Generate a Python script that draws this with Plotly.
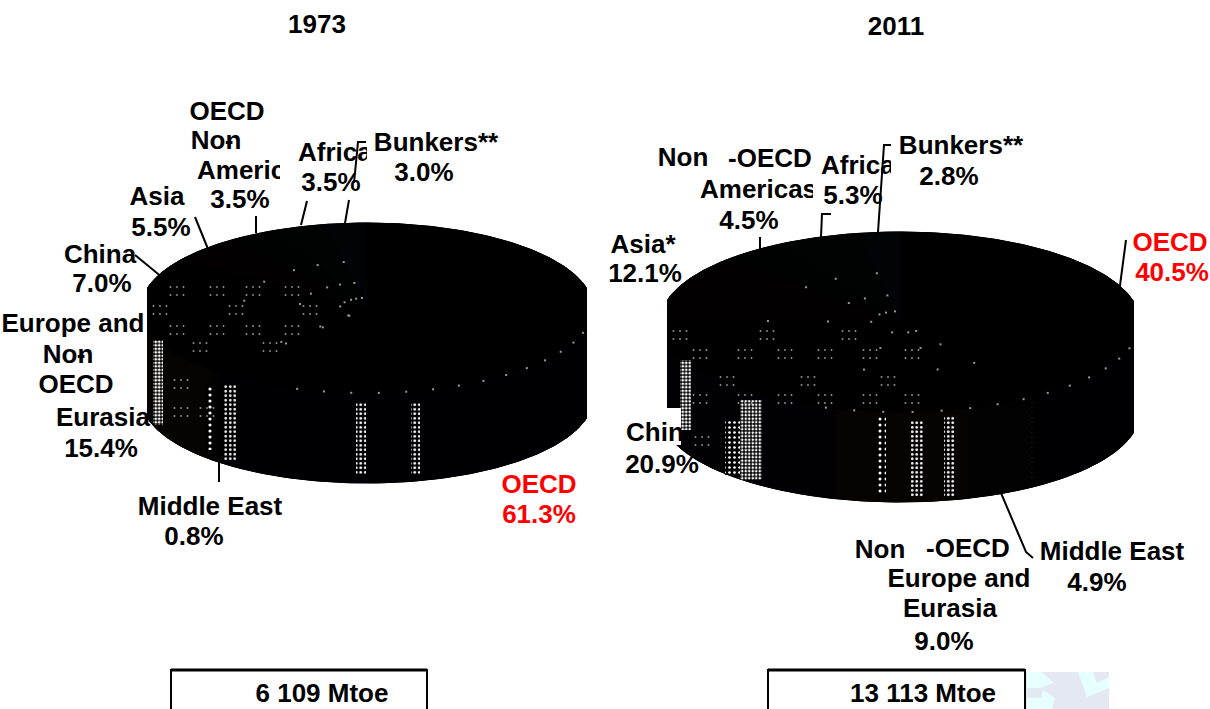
import numpy as np
import plotly.graph_objects as go

W, H = 1210, 709

# Regions, clockwise from twelve o'clock
regions = ["OECD", "Middle East", "Non-OECD Europe and Eurasia", "China", "Asia",
           "Non-OECD Americas", "Africa", "Bunkers"]
shares_1973 = [61.3, 0.8, 15.4, 7.0, 5.5, 3.5, 3.5, 3.0]
shares_2011 = [40.5, 4.9, 9.0, 20.9, 12.1, 4.5, 5.3, 2.8]
total_1973 = "6 109 Mtoe"
total_2011 = "13 113 Mtoe"
pct_1973 = dict(zip(regions, shares_1973))
pct_2011 = dict(zip(regions, shares_2011))

# Nearly black slice tints
TOP_TINTS = ["#000000", "#000000", "#000000", "#010000", "#020001", "#000101", "#010202", "#020306"]
SIDE_TINTS = ["#000002", "#020202", "#050403", "#010104", "#020202", "#020202", "#020202", "#020202"]

FONT = dict(family="Liberation Sans, Arial, sans-serif", size=26, weight="bold")


def px_axis(lo, hi, size, flip=False):
    dom = [lo / size, hi / size] if not flip else [1 - hi / size, 1 - lo / size]
    rng = [lo, hi] if not flip else [hi, lo]
    return dict(domain=dom, range=rng, visible=False, fixedrange=True)


fig = go.Figure()


def rim(geo, a0, a1, drop=0.0):
    cx, cy, rx, ry = geo
    t = np.radians(np.linspace(a0, a1, max(4, int(a1 - a0) * 2)))
    return cx + rx * np.sin(t), cy - ry * np.cos(t) + drop


def add_solid(x, y, ax, color):
    fig.add_trace(go.Scatter(x=x, y=y, xaxis=ax[0], yaxis=ax[1], mode="lines", fill="toself",
                             fillcolor=color, line=dict(color=color, width=1), hoverinfo="skip"))


def add_pie(shares, geo, depth, ax):
    # Black underlay hides antialiasing seams between the slices
    x0, y0 = rim(geo, 90, 270)
    x1, y1 = rim(geo, 90, 270, depth)
    add_solid(np.r_[x0, x1[::-1]], np.r_[y0, y1[::-1]], ax, "#000000")
    x0, y0 = rim(geo, 0, 360)
    add_solid(x0, y0, ax, "#000000")

    edges = np.concatenate([[0], np.cumsum(shares)]) * 3.6
    for i in range(len(shares)):
        # Only the front half of the wall is visible
        a0, a1 = max(edges[i], 90), min(edges[i + 1], 270)
        if a1 <= a0:
            continue
        x0, y0 = rim(geo, a0, a1)
        x1, y1 = rim(geo, a0, a1, depth)
        add_solid(np.r_[x0, x1[::-1]], np.r_[y0, y1[::-1]], ax, SIDE_TINTS[i])
    for i in range(len(shares)):
        x0, y0 = rim(geo, edges[i], edges[i + 1])
        add_solid(np.r_[geo[0], x0], np.r_[geo[1], y0], ax, TOP_TINTS[i])

    # Pale specks follow the slice boundaries and the front rim
    cx, cy, rx, ry = geo
    t = np.radians(edges[1:-1])
    fr = np.array([0.12, 0.3, 0.55])[:, None]
    sx = (cx + fr * rx * np.sin(t)).ravel()
    sy = (cy - fr * ry * np.cos(t)).ravel()
    front = np.radians(np.arange(100, 200, 7))
    sx = np.r_[sx, cx + rx * np.sin(front)]
    sy = np.r_[sy, cy - ry * np.cos(front)]
    fig.add_trace(go.Scatter(x=sx, y=sy, xaxis=ax[0], yaxis=ax[1], mode="markers", hoverinfo="skip",
                             marker=dict(symbol="square", size=2, color="#9a9a9a", line=dict(width=0))))


def add_band(x0, x1, y0, y1, ax, size=4, solidity=0.4, fg="#ffffff"):
    fig.add_trace(go.Scatter(x=[x0, x1, x1, x0, x0], y=[y0, y0, y1, y1, y0], xaxis=ax[0], yaxis=ax[1],
                             mode="lines", line=dict(width=0), fill="toself", fillcolor="rgba(0,0,0,0)",
                             fillpattern=dict(shape=".", size=size, solidity=solidity, fgcolor=fg,
                                              bgcolor="#000000", fgopacity=1),
                             hoverinfo="skip"))


def add_dots(rows, ax, step=6.5, gap=8, count=3):
    xs, ys = [], []
    for y, starts in rows:
        for x in starts:
            for r in (0, gap):
                for k in range(count):
                    xs.append(x + (k - (count - 1) / 2) * step)
                    ys.append(y + r)
    fig.add_trace(go.Scatter(x=xs, y=ys, xaxis=ax[0], yaxis=ax[1], mode="markers",
                             marker=dict(symbol="square", size=1.6, color="#a8a8a8", line=dict(width=0)),
                             hoverinfo="skip"))


AX_LEFT, AX_RIGHT, AX_TEXT, AX_CLIP = ("x", "y"), ("x2", "y2"), ("x3", "y3"), ("x4", "y4")

# 1973 pie
add_pie(shares_1973, (367, 308, 226, 85), 90, AX_LEFT)
for band in [(153, 163, 340, 425, 3.5, 0.5), (206, 212, 385, 450, 6, 0.22), (224, 236, 385, 460, 4.5, 0.28),
             (356, 366, 402, 475, 4.5, 0.3), (411, 420, 402, 475, 4.5, 0.3)]:
    add_band(band[0], band[1], band[2], band[3], AX_LEFT, size=band[4], solidity=band[5])
add_dots([(287, [177, 217, 253, 292]), (306, [160, 236, 310]), (326, [177, 217, 253, 292]),
          (343, [200, 270]), (380, [181]), (408, [181, 207])], AX_LEFT)

# 2011 pie
add_pie(shares_2011, (900, 322, 240, 90), 90, AX_RIGHT)
for band in [(680, 691, 360, 430, 3.5, 0.5), (740, 762, 400, 480, 3.5, 0.42), (725, 740, 420, 475, 5, 0.22),
             (878, 886, 415, 495, 6, 0.2), (911, 923, 420, 497, 4.5, 0.3), (944, 955, 415, 497, 4.5, 0.3),
             (1031, 1033, 400, 480, 5, 0.3)]:
    add_band(band[0], band[1], band[2], band[3], AX_RIGHT, size=band[4], solidity=band[5])
add_dots([(331, [680, 767, 849]), (350, [700, 745, 785, 825, 870, 912]), (377, [727, 808, 888]),
          (395, [700, 745, 785, 825, 870, 912]), (437, [702])], AX_RIGHT)

# Label box cuts the lower left corner of the 2011 pie
fig.add_trace(go.Scatter(x=[660, 681, 681, 660, 660], y=[408, 408, 445, 445, 408], xaxis="x2", yaxis="y2",
                         mode="lines", fill="toself", fillcolor="#ffffff", line=dict(width=0), hoverinfo="skip"))


def pct(table, name):
    return f"{table[name]:.1f}%"


# (text, x, y) centred lines
centred = [
    ("1973", 317, 26), ("2011", 896, 28),
    ("OECD", 227, 113), ("Non", 216, 142), ("-", 229, 142),
    (pct(pct_1973, "Non-OECD Americas"), 240, 201),
    ("Asia", 157, 198), (pct(pct_1973, "Asia"), 161, 229),
    ("China", 100, 256), (pct(pct_1973, "China"), 102, 285),
    ("Europe and", 73, 325), ("Non", 68, 356), ("-", 81, 356), ("OECD", 76, 386), ("Eurasia", 103, 419),
    (pct(pct_1973, "Non-OECD Europe and Eurasia"), 101, 450),
    ("Middle East", 210, 508), (pct(pct_1973, "Middle East"), 194, 538),
    (pct(pct_1973, "Africa"), 331, 184),
    ("Bunkers**", 436, 144), (pct(pct_1973, "Bunkers"), 424, 174),
    ("Non", 683, 159), ("-OECD", 770, 160), (pct(pct_2011, "Non-OECD Americas"), 749, 222),
    ("Asia*", 643, 246), (pct(pct_2011, "Asia"), 645, 275),
    (pct(pct_2011, "Africa"), 853, 197),
    ("Bunkers**", 961, 147), (pct(pct_2011, "Bunkers"), 949, 178),
    (pct(pct_2011, "China"), 662, 466),
    ("Non", 880, 551), ("-OECD", 968, 550), ("Europe and", 959, 580), ("Eurasia", 950, 610),
    (pct(pct_2011, "Non-OECD Europe and Eurasia"), 944, 643),
    ("Middle East", 1112, 553), (pct(pct_2011, "Middle East"), 1097, 584),
    (total_1973, 322, 695), (total_2011, 923, 695),
]
fig.add_trace(go.Scatter(x=[c[1] for c in centred], y=[c[2] for c in centred], text=[c[0] for c in centred],
                         mode="text", textposition="middle center", xaxis="x3", yaxis="y3",
                         textfont=dict(FONT, color="#000000"), hoverinfo="skip"))

# OECD labels carry the highlight colour
red = [("OECD", 539, 486), (pct(pct_1973, "OECD"), 539, 516), ("OECD", 1170, 244), (pct(pct_2011, "OECD"), 1172, 274)]
fig.add_trace(go.Scatter(x=[c[1] for c in red], y=[c[2] for c in red], text=[c[0] for c in red],
                         mode="text", textposition="middle center", xaxis="x3", yaxis="y3",
                         textfont=dict(FONT, color="#ff0000"), hoverinfo="skip"))

# Left-aligned lines whose ends are trimmed by neighbouring label boxes
trimmed = [("America", 197, 172), ("Africa", 298, 154), ("Americas", 700, 191), ("Africa", 821, 167)]
fig.add_trace(go.Scatter(x=[c[1] for c in trimmed], y=[c[2] for c in trimmed], text=[c[0] for c in trimmed],
                         mode="text", textposition="middle right", xaxis="x3", yaxis="y3",
                         textfont=dict(FONT, color="#000000"), hoverinfo="skip"))

fig.add_trace(go.Scatter(x=[626], y=[434], text=["China"], mode="text", textposition="middle right",
                         xaxis="x4", yaxis="y4", textfont=dict(FONT, color="#000000"), hoverinfo="skip"))


def seg(points, width=2):
    path = "M " + " L ".join(f"{x},{y}" for x, y in points)
    return dict(type="path", path=path, xref="x3", yref="y3", layer="above", line=dict(color="#000000", width=width))


def mask(x0, x1, y0, y1):
    return dict(type="rect", x0=x0, x1=x1, y0=y0, y1=y1, xref="x3", yref="y3", layer="above",
                fillcolor="#ffffff", line=dict(width=0))


def blob(points, color):
    path = "M " + " L ".join(f"{x},{y}" for x, y in points) + " Z"
    return dict(type="path", path=path, xref="x3", yref="y3", layer="below", fillcolor=color, line=dict(width=0))


shapes = [
    # Pale background mark beside the 2011 total
    dict(type="rect", x0=1026, x1=1109, y0=672, y1=709, xref="x3", yref="y3", layer="below",
         fillcolor="#e3e8f1", line=dict(width=0)),
    blob([(1027, 672), (1042, 672), (1054, 683), (1040, 688), (1027, 688)], "#e6ffff"),
    blob([(1043, 690), (1055, 698), (1052, 709), (1027, 709), (1027, 698), (1041, 698)], "#e6ffff"),
    blob([(1078, 672), (1093, 672), (1097, 683), (1109, 677), (1109, 688), (1087, 697)], "#e6ffff"),
    mask(280, 300, 164, 188), mask(367, 373, 140, 170), mask(813, 820, 174, 207), mask(891, 899, 152, 184),
    seg([(345, 223), (349, 200)]), seg([(354, 183), (358, 142), (366, 142)]),
    seg([(301, 225), (307, 201)]), seg([(256, 233), (256, 216)]), seg([(208, 249), (195, 217)]),
    seg([(163, 278), (135, 255)]), seg([(219, 458), (219, 482)]),
    seg([(1119, 293), (1126, 240)]), seg([(1001, 493), (1026, 552), (1033, 558)]),
    seg([(878, 232), (884, 145), (891, 145)]), seg([(821, 237), (822, 214), (831, 214)]),
    seg([(760, 250), (760, 237)]),
    seg([(171, 720), (171, 670), (427, 670), (427, 720)]), seg([(171, 670), (427, 670)], 3),
    seg([(768, 720), (768, 670), (1025, 670), (1025, 720)]), seg([(768, 670), (1025, 670)], 3),
]

fig.update_layout(
    width=W, height=H, margin=dict(l=0, r=0, t=0, b=0), autosize=False, showlegend=False,
    paper_bgcolor="#ffffff", plot_bgcolor="rgba(0,0,0,0)", shapes=shapes,
    xaxis=px_axis(147, 587, W), yaxis=px_axis(200, 500, H, flip=True),
    xaxis2=px_axis(667, 1134, W), yaxis2=px_axis(200, 520, H, flip=True),
    xaxis3=px_axis(0, W, W), yaxis3=px_axis(0, H, H, flip=True),
    xaxis4=px_axis(600, 681, W), yaxis4=px_axis(400, 460, H, flip=True),
)

fig.write_html("out.html", config=dict(displayModeBar=False))
